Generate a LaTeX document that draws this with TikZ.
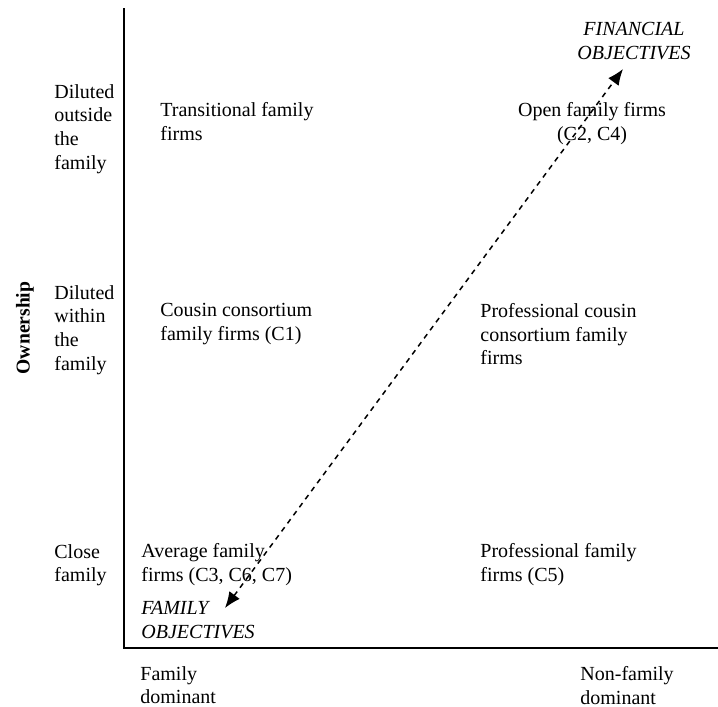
\documentclass[tikz,border=0pt]{standalone}
\usepackage{fontspec}
\setmainfont{Liberation Serif}
\usepackage{tikz}
\usetikzlibrary{arrows.meta,positioning}

\tikzset{
  lbl/.style={font=\fontsize{10}{11.8}\selectfont, align=left, inner sep=0pt, anchor=north west},
  obj/.style={lbl, font=\fontsize{10}{11.8}\selectfont\itshape},
  axisline/.style={line width=0.8pt},
  tendency/.style={dash pattern=on 2.6pt off 2.4pt, line width=0.75pt, {Latex[length=8pt,width=6.5pt]}-{Latex[length=8pt,width=6.5pt]}}
}

\begin{document}
\begin{tikzpicture}[x=0.5pt, y=-0.5pt]
\useasboundingbox (0,0) rectangle (718,707);
% axes
\coordinate (top) at (124,8);
\coordinate (origin) at (124,648);
\coordinate (right) at (718,648);
\draw[axisline] (top) -- (origin) -- (right);
% vertical axis
\node[font=\fontsize{9.8}{12}\selectfont\bfseries, rotate=90, inner sep=0pt] (own) at (25,328) {Ownership};
\node[lbl] (dout) at (54,84) {Diluted\\outside\\the\\family};
\node[lbl] (din) at (54,285) {Diluted\\within\\the\\family};
\node[lbl] (close) at (54,544) {Close\\family};
% horizontal axis
\node[lbl] (fdom) at (140,666) {Family\\dominant};
\node[lbl] (nfdom) at (580,666) {Non-family\\dominant};
% quadrants
\node[lbl] (trans) at (160,102) {Transitional family\\firms};
\node[lbl, align=center, anchor=north] (open) at (592,102) {Open family firms\\(C2, C4)};
\node[lbl] (cousin) at (160,303) {Cousin consortium\\family firms (C1)};
\node[lbl] (procousin) at (480,303) {Professional cousin\\consortium family\\firms};
\node[lbl] (avg) at (141,543) {Average family\\firms (C3, C6, C7)};
\node[lbl] (prof) at (480,543) {Professional family\\firms (C5)};
% objectives
\node[obj, align=center, anchor=north] (fin) at (634,22) {FINANCIAL\\OBJECTIVES};
\node[obj] (fam) at (141,601) {FAMILY\\OBJECTIVES};
\coordinate (lo) at (225,608);
\coordinate (hi) at (623,69);
\draw[tendency] (lo) -- (hi);
\end{tikzpicture}
\end{document}
